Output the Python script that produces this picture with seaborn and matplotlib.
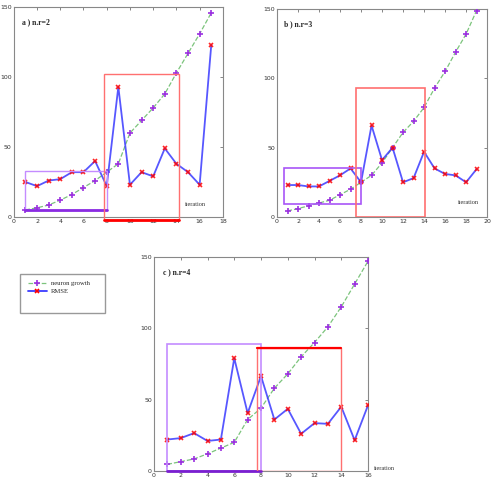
import matplotlib
matplotlib.use("Agg")
import matplotlib.pyplot as plt
from matplotlib.patches import Rectangle
from matplotlib.lines import Line2D
import seaborn as sns

sns.set_style("white")

# panel a (n.r=2)
iter_a = list(range(1, 18))
growth_a = [5, 6.5, 8.5, 12, 16, 21, 26, 32, 38, 60, 69, 78, 88, 103, 117, 131, 146]
rmse_a = [25, 22, 26, 27, 32, 32, 40, 22, 93, 23, 32, 29, 49, 38, 32, 23, 123]

# panel b (n.r=3)
iter_b = list(range(1, 20))
growth_b = [4.3, 6, 8, 10, 12, 16, 20, 25, 30, 39, 50, 61, 69, 79, 93, 105, 119, 132, 149]
rmse_b = [23, 23, 22, 22, 26, 30, 35, 25, 66, 41, 50, 25, 28, 47, 35, 31, 30, 25, 34.5]

# panel c (n.r=4)
iter_c = list(range(1, 17))
growth_c = [4.6, 6.5, 8.4, 12, 16, 20, 36, 44, 58, 68, 80, 90, 101, 115, 131, 147]
rmse_c = [22, 23, 26.5, 21, 22, 79, 40.5, 66.5, 36, 43.5, 26, 33.5, 33, 45, 21.5, 46]

titles = ["a ) n.r=2", "b ) n.r=3", "c ) n.r=4"]
xmax = [18, 20, 16]

GREEN = "#7cc47c"
PURPLE = "#9b30e0"
BLUE = "#3a3aff"
BOX_PURPLE = "#c48cff"
BOX_RED = "#ff7070"

fig = plt.figure(figsize=(4.92, 4.82), dpi=100)
ax_a = fig.add_axes([0.028, 0.550, 0.425, 0.435])
ax_b = fig.add_axes([0.563, 0.550, 0.427, 0.431])
ax_c = fig.add_axes([0.313, 0.023, 0.435, 0.444])

panels = [
    (ax_a, iter_a, growth_a, rmse_a),
    (ax_b, iter_b, growth_b, rmse_b),
    (ax_c, iter_c, growth_c, rmse_c),
]

for i, (ax, it, gr, rm) in enumerate(panels):
    sns.lineplot(x=it, y=gr, ax=ax, color=GREEN, linestyle="--", linewidth=0.9,
                 marker="+", markersize=5, markeredgecolor=PURPLE, markeredgewidth=1.2,
                 zorder=3)
    sns.lineplot(x=it, y=rm, ax=ax, color=BLUE, linewidth=1.3, alpha=0.85,
                 marker="x", markersize=3.5, markeredgecolor="red", markeredgewidth=1.2,
                 zorder=4)
    ax.set_xlim(0, xmax[i])
    ax.set_ylim(0, 150)
    ax.set_xticks(range(0, xmax[i] + 1, 2))
    ax.set_yticks([0, 50, 100, 150])
    ax.tick_params(direction="in", length=2, width=0.5, labelsize=4.5, pad=1.5,
                   top=True, right=True, colors="#555555", labelcolor="#333333")
    for s in ax.spines.values():
        s.set_color("#888888")
        s.set_linewidth(0.8)
    ax.text(0.7, 139, titles[i], fontsize=5.5, fontweight="bold",
            family="Liberation Serif", va="center")

# highlight boxes
ax_a.add_patch(Rectangle((1, 5), 7, 28, fill=False, edgecolor=BOX_PURPLE, lw=1, zorder=5))
ax_a.plot([1, 8], [5, 5], color="#8a2be2", lw=2, zorder=5)
ax_a.add_patch(Rectangle((7.8, -2.5), 6.4, 105, fill=False, edgecolor=BOX_RED, lw=1,
                         zorder=5, clip_on=False))
ax_a.plot([7.8, 14.2], [-2.5, -2.5], color="red", lw=2, zorder=5, clip_on=False)

ax_b.add_patch(Rectangle((0.7, 9.2), 7.3, 26.3, fill=False, edgecolor="#a855f7", lw=1.2, zorder=5))
ax_b.add_patch(Rectangle((7.5, 0), 6.6, 93, fill=False, edgecolor=BOX_RED, lw=1.2, zorder=5))

ax_c.add_patch(Rectangle((1, 0), 7, 89, fill=False, edgecolor=BOX_PURPLE, lw=1.2, zorder=5))
ax_c.plot([1, 8], [0, 0], color="#7a1fd0", lw=2, zorder=5, clip_on=False)
ax_c.add_patch(Rectangle((7.7, 0), 6.3, 86.5, fill=False, edgecolor=BOX_RED, lw=1, zorder=5))
ax_c.plot([7.7, 14], [86.5, 86.5], color="red", lw=1.6, zorder=5)

# "iteration" labels
ax_a.text(15.6, 9, "iteration", fontsize=4.5, ha="center", va="center",
          family="Liberation Serif", color="#333333")
ax_b.text(18.2, 10.5, "iteration", fontsize=4.5, ha="center", va="center",
          family="Liberation Serif", color="#333333")
ax_c.text(16.4, 1.5, "iteration", fontsize=4.5, ha="left", va="center",
          family="Liberation Serif", color="#333333", clip_on=False)

# legend
fig.patches.append(Rectangle((0.041, 0.351), 0.173, 0.081, transform=fig.transFigure,
                             fill=False, edgecolor="#999999", lw=1))
handles = [
    Line2D([], [], color=GREEN, linestyle="--", lw=0.9, marker="+", markersize=5,
           markeredgecolor=PURPLE, markeredgewidth=1.2),
    Line2D([], [], color=BLUE, lw=1.3, marker="x", markersize=3.5,
           markeredgecolor="red", markeredgewidth=1.2),
]
fig.legend(handles, ["neuron growth", "RMSE"], loc="upper left",
           bbox_to_anchor=(0.045, 0.43), frameon=False, fontsize=4.8,
           handlelength=2.8, handletextpad=0.6, labelspacing=0.3,
           prop={"family": "Liberation Serif", "size": 4.8})

fig.savefig("out.png", dpi=100)
